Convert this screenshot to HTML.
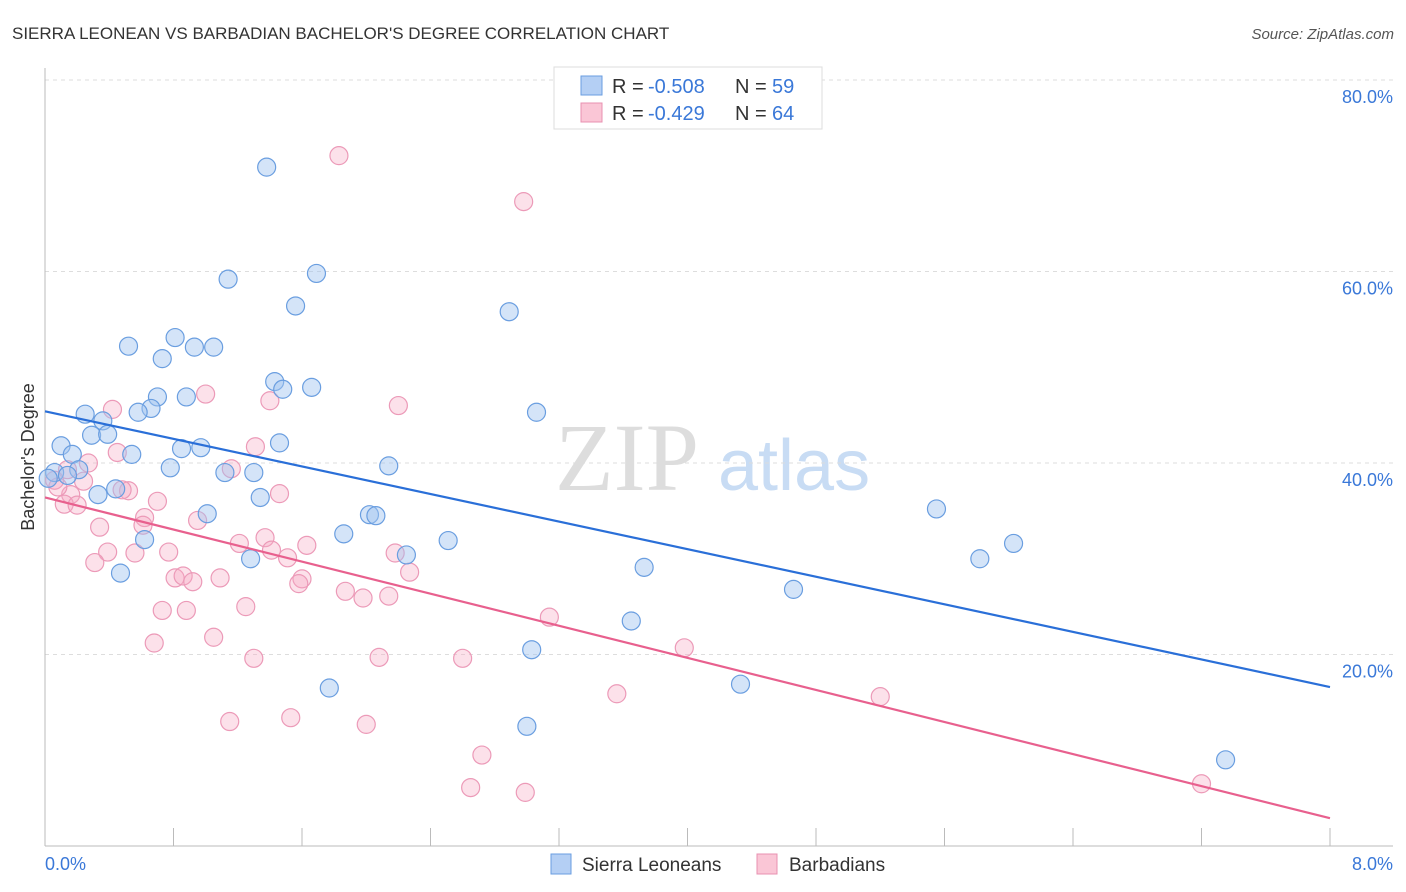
<!DOCTYPE html>
<html><head><meta charset="utf-8"><style>
body{margin:0;background:#fff;font-family:"Liberation Sans",sans-serif}
svg{display:block}
</style></head><body>
<svg id="c" width="1406" height="892">
<text x="12" y="39" font-size="17" fill="#333">SIERRA LEONEAN VS BARBADIAN BACHELOR'S DEGREE CORRELATION CHART</text>
<text x="1394" y="39" font-size="15" fill="#555" font-style="italic" text-anchor="end">Source: ZipAtlas.com</text>
<g>
<text x="555" y="490" font-size="96" font-family="Liberation Serif,serif" fill="#ddd">ZIP</text>
<text x="718" y="490" font-size="72" fill="#c8dcf4">atlas</text></g>
<g id="grid"></g><g id="pts"></g><g id="lines"></g>
<text transform="translate(34,457) rotate(-90)" font-size="18" fill="#333" text-anchor="middle">Bachelor's Degree</text>
<text x="45" y="870" font-size="18" fill="#3a78d8">0.0%</text>
<text x="1393" y="870" font-size="18" fill="#3a78d8" text-anchor="end">8.0%</text>
<g>
<rect x="554" y="67" width="268" height="62" fill="#fff" stroke="#ddd"/>
<rect x="581" y="76" width="21" height="19" fill="#b4cff4" stroke="#6a9ee0"/>
<rect x="581" y="103" width="21" height="19" fill="#fac6d6" stroke="#e890b0"/>
<text x="612" y="93" font-size="20" fill="#333">R = <tspan x="648" fill="#3a78d8">-0.508</tspan><tspan x="735">N = </tspan><tspan x="772" fill="#3a78d8">59</tspan></text>
<text x="612" y="120" font-size="20" fill="#333">R = <tspan x="648" fill="#3a78d8">-0.429</tspan><tspan x="735">N = </tspan><tspan x="772" fill="#3a78d8">64</tspan></text>
</g>
<g>
<rect x="551" y="854" width="20" height="20" fill="#b4cff4" stroke="#6a9ee0"/>
<text x="582" y="871" font-size="19" fill="#333">Sierra Leoneans</text>
<rect x="757" y="854" width="20" height="20" fill="#fac6d6" stroke="#e890b0"/>
<text x="789" y="871" font-size="19" fill="#333">Barbadians</text>
</g>
</svg>
<script>
const yTicks=[20,40,60,80];
const xTicks=[0.8,1.6,2.4,3.2,4.0,4.8,5.6,6.4,7.2,8.0];
const blueX=[1.38,1.69,1.14,1.56,2.89,0.52,0.81,0.93,1.05,0.73,1.43,1.48,1.66,0.70,0.88,0.66,0.58,0.25,3.06,0.36,0.29,0.39,1.46,0.10,0.85,0.97,0.17,0.54,2.14,0.21,0.78,1.12,1.30,0.06,0.02,0.44,0.33,1.34,1.01,2.02,2.06,5.55,1.86,2.51,0.62,6.03,2.25,5.82,1.28,0.47,3.73,4.66,3.65,3.03,4.33,1.77,3.00,7.35,0.14];
const blueY=[70.9,59.8,59.2,56.4,55.8,52.2,53.1,52.1,52.1,50.9,48.5,47.7,47.9,46.9,46.9,45.7,45.3,45.1,45.3,44.4,42.9,43.0,42.1,41.8,41.5,41.6,40.9,40.9,39.7,39.3,39.5,39.0,39.0,39.0,38.4,37.3,36.7,36.4,34.7,34.6,34.5,35.2,32.6,31.9,32.0,31.6,30.4,30.0,30.0,28.5,29.1,26.8,23.5,20.5,16.9,16.5,12.5,9.0,38.7];
const pinkX=[1.83,2.98,1.00,1.40,2.20,0.42,1.31,0.45,0.27,1.16,0.14,0.24,0.16,0.52,0.48,0.70,0.12,0.20,0.62,0.95,0.61,0.34,1.46,1.37,1.21,1.63,0.39,0.56,0.77,1.41,1.51,2.18,0.31,2.27,1.60,0.81,0.86,0.92,1.09,1.58,1.87,1.98,2.14,1.25,0.73,0.88,3.14,1.05,0.68,3.98,1.30,2.08,2.60,3.56,5.20,1.15,1.53,2.00,2.72,2.65,2.99,7.20,0.06,0.08];
const pinkY=[72.1,67.3,47.2,46.5,46.0,45.6,41.7,41.1,40.0,39.4,39.3,38.1,36.7,37.1,37.2,36.0,35.7,35.6,34.3,34.0,33.5,33.3,36.8,32.2,31.6,31.4,30.7,30.6,30.7,30.9,30.1,30.6,29.6,28.6,27.9,28.0,28.2,27.6,28.0,27.4,26.6,25.9,26.1,25.0,24.6,24.6,23.9,21.8,21.2,20.7,19.6,19.7,19.6,15.9,15.6,13.0,13.4,12.7,9.5,6.1,5.6,6.5,38.2,37.5];
const blueTrend=[45.4,16.6];
const pinkTrend=[36.4,2.9];
const NS='http://www.w3.org/2000/svg';
const X=v=>45+v/8*1285, Y=v=>846-v/80*766;
function mk(p,t,a){const e=document.createElementNS(NS,t);for(const k in a)e.setAttribute(k,a[k]);p.appendChild(e);return e;}
const g=document.getElementById('grid');
yTicks.forEach(t=>{
 const l=mk(g,'line',{x1:45,x2:1393,y1:Y(t),y2:Y(t),stroke:'#ddd','stroke-dasharray':'4,4'});
 
 
 const tx=mk(g,'text',{x:1393,y:Y(t)+23,'font-size':18,fill:'#3a78d8','text-anchor':'end'});tx.textContent=t.toFixed(1)+'%';
 
 
});
const ax=mk(g,'line',{x1:45,x2:1393,y1:846,y2:846,stroke:'#bbb'});


const ay=mk(g,'line',{x1:45,x2:45,y1:68,y2:846,stroke:'#bbb'});


xTicks.forEach(t=>{const l=mk(g,'line',{x1:X(t),x2:X(t),y1:828,y2:846,stroke:'#bbb'});
 
 });
const p=document.getElementById('pts');
pinkX.forEach((x,i)=>{const c=mk(p,'circle',{cx:X(x),cy:Y(pinkY[i]),r:9,fill:'rgba(245,170,195,0.35)',stroke:'#ec9ab8','stroke-width':1.2});
 
 });
blueX.forEach((x,i)=>{const c=mk(p,'circle',{cx:X(x),cy:Y(blueY[i]),r:9,fill:'rgba(160,195,240,0.45)',stroke:'#6a9ee0','stroke-width':1.2});
 
 });
const L=document.getElementById('lines');
const bl=mk(L,'line',{x1:X(0),y1:Y(blueTrend[0]),x2:X(8),y2:Y(blueTrend[1]),stroke:'#2a6fd8','stroke-width':2.2});


const pl=mk(L,'line',{x1:X(0),y1:Y(pinkTrend[0]),x2:X(8),y2:Y(pinkTrend[1]),stroke:'#e8608e','stroke-width':2.2});


</script>
</body></html>
